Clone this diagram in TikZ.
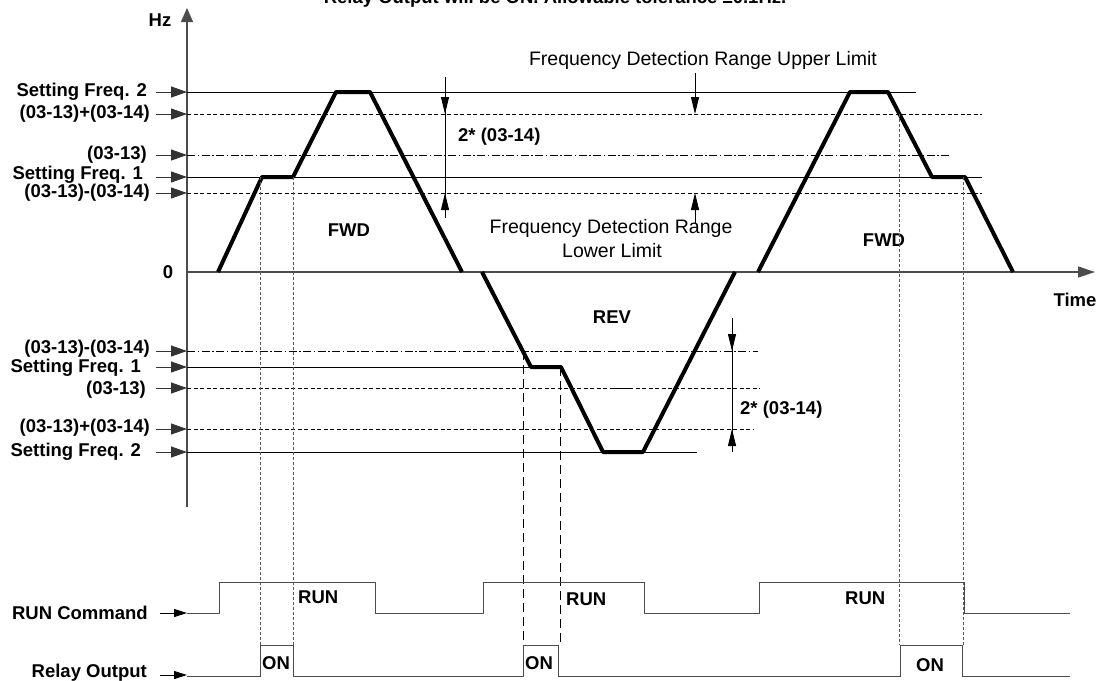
\documentclass[tikz,border=0pt]{standalone}
\usepackage{fontspec}
\setmainfont{Liberation Sans}
\usetikzlibrary{arrows.meta}
\begin{document}
\begin{tikzpicture}[x=1pt,y=-1pt,
  lbl/.style={font=\fontsize{18.5}{20}\selectfont\bfseries, inner sep=0pt},
  note/.style={font=\fontsize{19.5}{22}\selectfont, inner sep=0pt},
  axisline/.style={draw=black!70, line width=1.3pt},
  setline/.style={draw=black, line width=0.9pt},
  dashline/.style={draw=black, line width=0.9pt, dash pattern=on 4pt off 2.5pt},
  dotline/.style={draw=black, line width=0.9pt, dash pattern=on 8pt off 2.5pt on 1.5pt off 2.5pt},
  traj/.style={draw=black, line width=4pt, line join=round},
  gdash/.style={draw=black!65, line width=0.9pt, dash pattern=on 3pt off 2pt},
  bdash/.style={draw=black, line width=1pt, dash pattern=on 9pt off 5pt},
  wave/.style={draw=black!70, line width=1pt},
  larrow/.style={draw=black!80, line width=1pt, -{Triangle[length=16pt,width=11pt]}},
  sarrow/.style={draw=black, line width=1pt, -{Triangle[length=13pt,width=8pt]}},
  darrow/.style={draw=black, line width=0.8pt, -{Triangle[length=17pt,width=8pt]}}
]
\useasboundingbox (0,0) rectangle (1102,680);
\clip (0,0) rectangle (1102,680);

% title (cropped at the top edge, as in the reference)
\node[lbl, anchor=base] (title) at (555,4) {Relay Output will be ON. Allowable tolerance ±0.1Hz.};

% axes
\coordinate (ybot) at (187,507);
\coordinate (ytop) at (187,8);
\coordinate (xl) at (187,272);
\coordinate (xr) at (1095,272);
\draw[axisline, -{Triangle[length=14pt,width=12pt]}] (ybot) -- (ytop);
\draw[axisline, -{Triangle[length=17pt,width=11pt]}] (xl) -- (xr);
\node[lbl] (hz) at (160,20) {Hz};
\node[lbl] (zero) at (168,272) {0};
\node[lbl] (time) at (1075,300) {Time};

% upper reference lines
\draw[setline] (187,92) -- (916,92);
\draw[dashline] (187,114) -- (982,114);
\draw[dotline] (187,155) -- (949,155);
\draw[setline] (187,177) -- (982,177);
\draw[dashline] (187,193) -- (982,193);

% lower reference lines
\draw[dotline] (187,351) -- (758,351);
\draw[setline] (187,367) -- (562,367);
\draw[dashline] (187,388) -- (760,388);
\draw[setline] (612,388) -- (630,388);
\draw[dashline] (187,429) -- (753,429);
\draw[setline] (187,452) -- (697,452);

% left labels with arrows (upper)
\foreach \y/\xr/\t/\n in {92/147/Setting Freq. 2/a1, 114/150/(03-13)+(03-14)/a2, 155/147/(03-13)/a3, 175/143/Setting Freq. 1/a4, 193/150/(03-13)-(03-14)/a5}{
  \node[lbl, anchor=east] (\n) at (\xr,\y) {\t};
}
\foreach \y in {92,114,155,177,193}{
  \draw[larrow] (156,\y) -- (187,\y);
}
% left labels with arrows (lower)
\foreach \y/\xr/\t/\n in {349/150/(03-13)-(03-14)/b1, 368/141/Setting Freq. 1/b2, 390/146/(03-13)/b3, 428/150/(03-13)+(03-14)/b4, 452/141/Setting Freq. 2/b5}{
  \node[lbl, anchor=east] (\n) at (\xr,\y) {\t};
}
\foreach \y in {351,367,388,429,452}{
  \draw[larrow] (156,\y) -- (187,\y);
}

% speed trajectory
\draw[traj] (218,272) -- (262,177) -- (293,177) -- (336,92) -- (370,92) -- (462,272);
\draw[traj] (482,272) -- (531,367) -- (561,367) -- (603,452) -- (643,452) -- (735,272);
\draw[traj] (758,272) -- (850,92) -- (888,92) -- (932,177) -- (965,177) -- (1013,272);

\node[lbl] (fwd1) at (349,230) {FWD};
\node[lbl] (rev) at (612,317) {REV};
\node[lbl] (fwd2) at (884,240) {FWD};

% tolerance band markers (upper)
\draw[setline, line width=0.8pt] (445,77) -- (445,218);
\draw[darrow] (445,77) -- (445,114);
\draw[darrow] (445,218) -- (445,193);
\node[lbl, anchor=west] (tol1) at (458,137) {2* (03-14)};

\node[note] (upl) at (703,60) {Frequency Detection Range Upper Limit};
\draw[darrow] (695,73) -- (695,114);
\node[note] (lol1) at (611,228) {Frequency Detection Range};
\node[note] (lol2) at (612,251) {Lower Limit};
\draw[darrow] (695,223) -- (695,193);

% tolerance band markers (lower)
\draw[setline, line width=0.8pt] (732,318) -- (732,452);
\draw[darrow] (732,318) -- (732,351);
\draw[darrow] (732,452) -- (732,429);
\node[lbl, anchor=west] (tol2) at (740,410) {2* (03-14)};

% vertical timing guides
\draw[gdash] (260,177) -- (260,645);
\draw[gdash] (293,177) -- (293,645);
\draw[bdash] (523,351) -- (523,645);
\draw[bdash] (560,367) -- (560,645);
\draw[gdash] (899,114) -- (899,645);
\draw[gdash] (963,177) -- (963,645);

% RUN command
\node[lbl, anchor=east] (runcmd) at (148,613) {RUN Command};
\draw[sarrow] (160,613) -- (187,613);
\draw[wave] (187,613) -- (219,613) -- (219,582) -- (375,582) -- (375,613) -- (483,613) -- (483,582) -- (644,582) -- (644,613) -- (759,613) -- (759,582) -- (964,582) -- (964,613) -- (1070,613);
\node[lbl, anchor=west] (run1) at (298,597) {RUN};
\node[lbl, anchor=west] (run2) at (566,599) {RUN};
\node[lbl, anchor=west] (run3) at (845,598) {RUN};

% relay output
\node[lbl, anchor=east] (relay) at (147,673) {Relay Output};
\draw[sarrow] (160,675) -- (187,675);
\draw[wave] (187,676) -- (260,676) -- (260,645) -- (293,645) -- (293,676) -- (523,676) -- (523,645) -- (558,645) -- (558,676) -- (900,676) -- (900,645) -- (962,645) -- (962,676) -- (1070,676);
\node[lbl, anchor=west] (on1) at (262,663) {ON};
\node[lbl, anchor=west] (on2) at (525,663) {ON};
\node[lbl, anchor=west] (on3) at (916,665) {ON};
\end{tikzpicture}
\end{document}
